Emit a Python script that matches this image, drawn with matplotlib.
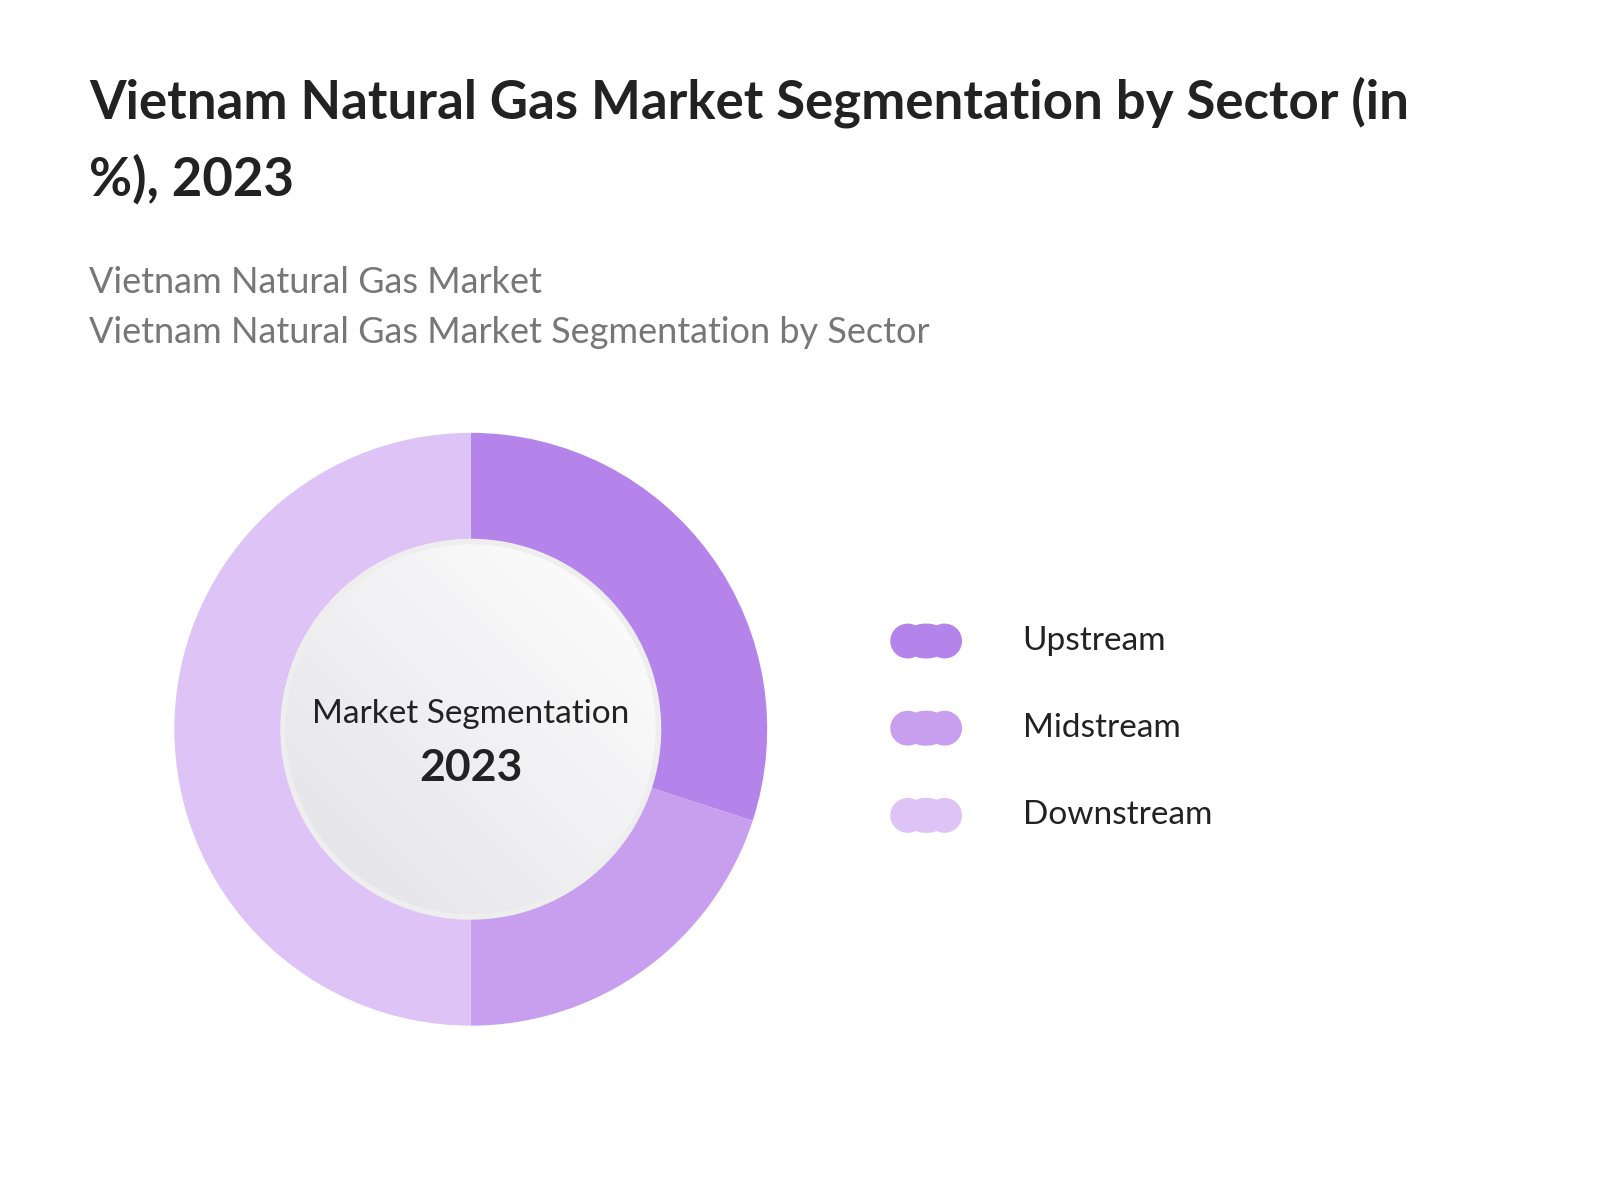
import numpy as np
import matplotlib.pyplot as plt
from matplotlib.patches import FancyBboxPatch, Circle

plt.rcParams['font.family'] = ['Lato', 'DejaVu Sans']

sectors = ['Upstream', 'Midstream', 'Downstream']
shares = [30, 20, 50]
colors = ['#B584EA', '#C79FEE', '#DDC3F6']

W, H = 1560, 1170
fig = plt.figure(figsize=(16, 12), dpi=100)

# overlay axes in reference pixel coordinates
ov = fig.add_axes([0, 0, 1, 1])
ov.set_xlim(0, W)
ov.set_ylim(H, 0)
ov.axis('off')

ov.text(87, 100, 'Vietnam Natural Gas Market Segmentation by Sector (in', fontsize=38,
        fontweight='bold', color='#222222', va='center')
ov.text(87, 175, '%), 2023', fontsize=38, fontweight='bold', color='#222222', va='center')
ov.text(87, 275, 'Vietnam Natural Gas Market', fontsize=26, color='#777777', va='center')
ov.text(87, 324, 'Vietnam Natural Gas Market Segmentation by Sector', fontsize=26,
        color='#777777', va='center')

# donut
cx, cy, r = 459, 711, 289
ax = fig.add_axes([(cx - r) / W, 1 - (cy + r) / H, 2 * r / W, 2 * r / H])
ax.pie(shares, colors=colors, startangle=90, counterclock=False,
       wedgeprops=dict(width=1 - 185 / 289, linewidth=0))
ax.set_aspect('equal')
ax.set_xlim(-1, 1)
ax.set_ylim(-1, 1)

# inner gradient circle
ri = 183 / 289
yy, xx = np.mgrid[-1:1:300j, -1:1:300j]
grad = (xx - yy) / 2
img = ax.imshow(grad, extent=[-ri, ri, -ri, ri], cmap=plt.matplotlib.colors.LinearSegmentedColormap.from_list(
    'g', ['#e2e2e6', '#ffffff']), origin='upper', zorder=3)
clip = Circle((0, 0), ri, transform=ax.transData)
img.set_clip_path(clip)
ax.add_patch(Circle((0, 0), ri, fill=False, ec='#eeeeee', lw=4, zorder=4))
ax.text(0, 0.05, 'Market Segmentation', ha='center', va='center', fontsize=24,
        color='#222222', zorder=5)
ax.text(0, -0.13, '2023', ha='center', va='center', fontsize=32, fontweight='bold',
        color='#222222', zorder=5)

# legend
for i, (name, c) in enumerate(zip(sectors, colors)):
    y = 625 + i * 85
    ov.add_patch(FancyBboxPatch((868 + 17, y - 17 + 17 - 17), 70 - 34, 34,
                                boxstyle='round,pad=0,rounding_size=17', fc=c, ec='none',
                                mutation_aspect=1))
    ov.add_patch(Circle((885, y), 17, fc=c, ec='none'))
    ov.add_patch(Circle((921, y), 17, fc=c, ec='none'))
    ov.text(997, y, name, fontsize=24, color='#222222', va='center')

fig.savefig('out.png', dpi=100, facecolor='white')
